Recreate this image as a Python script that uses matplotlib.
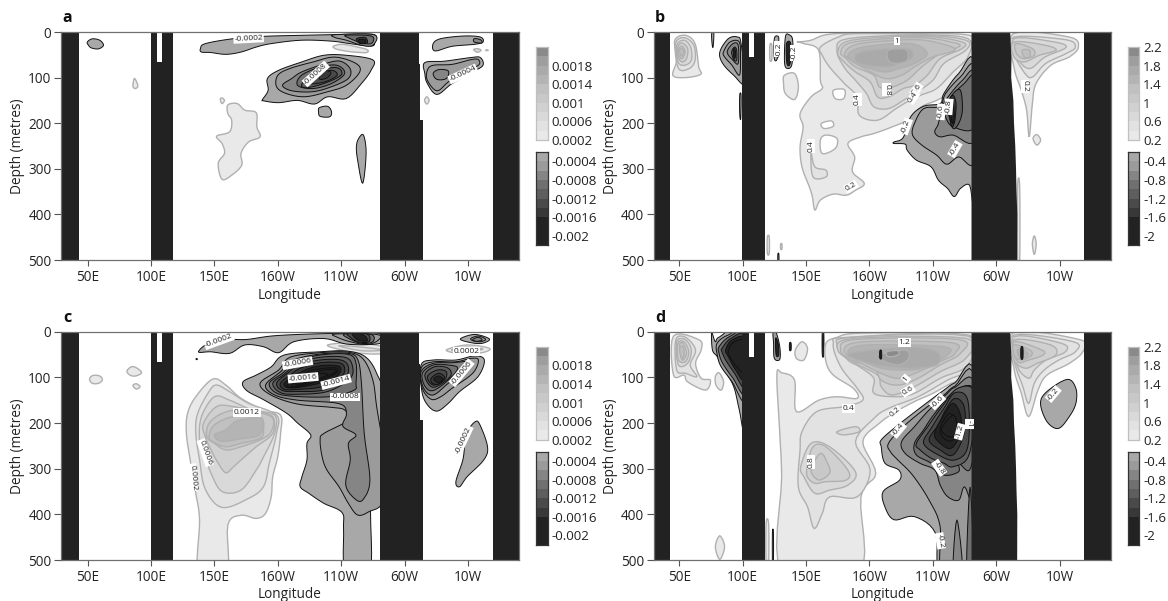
import numpy as np
import matplotlib
matplotlib.use('Agg')
import matplotlib.pyplot as plt
from matplotlib.colors import ListedColormap

plt.rcParams['font.family'] = ['Open Sans', 'DejaVu Sans']

W, H = 1168, 601

lon_ticks = [50, 100, 150, 200, 250, 300, 350]
lon_labels = ['50E', '100E', '150E', '160W', '110W', '60W', '10W']
depth_ticks = [0, 100, 200, 300, 400, 500]

# band greys, weakest band first
pos_greys = ['#e9e9e9', '#e2e2e2', '#d9d9d9', '#d0d0d0', '#c8c8c8', '#c0c0c0', '#b4b4b4', '#aaaaaa', '#9e9e9e', '#8a8a8a']
neg_greys = ['#a8a8a8', '#9b9b9b', '#858585', '#707070', '#5e5e5e', '#4a4a4a', '#383838', '#222222', '#222222', '#222222']

# land: (lon list, depth list)
land_left_lon = [[29, 43, 43, 29], [99.6, 117.6, 117.6, 99.6], [280.6, 311.6, 311.6, 312.6, 312.6, 314.4, 314.4, 280.6], [369.6, 391, 391, 369.6]]
land_left_dep = [[0, 0, 500, 500], [0, 0, 500, 500], [0, 0, 70, 70, 193, 193, 500, 500], [0, 0, 500, 500]]
land_right_lon = [[29, 43, 43, 29], [99.4, 117.4, 117.4, 99.4], [280.5, 311, 312, 311.8, 313.5, 314, 315, 315.6, 316, 316.6, 316.5, 280.5], [369.2, 391, 391, 369.2]]
land_right_dep = [[0, 0, 500, 500], [0, 0, 500, 500], [0, 0, 60, 100, 150, 200, 250, 300, 350, 400, 500, 500], [0, 0, 500, 500]]
slot_lon = [105, 109]
slot_depth_left = 66
slot_depth_right = 55

# contour outlines: (level, lons, depths)
a_rings = [
    (-0.0002, [49.7, 53.6, 59.5, 62.5, 58.6, 53, 50.6], [22, 15, 18, 29, 37, 35, 29]),
    (0.0002, [87, 89, 89.5, 87.5, 85.8, 86], [102, 112, 120, 124, 120, 110]),
    (0.0002, [154.6, 156, 157.9, 156], [148, 144.5, 150, 157]),
    (0.0002, [160.6, 168, 174, 183, 183.5, 186, 177, 171, 171.6, 163.6, 156, 153, 158, 156, 151.7, 162, 163.6, 160.6], [160, 157, 171.5, 177, 208, 230, 241, 266, 292, 314, 323, 288, 266, 244.5, 228.5, 219, 193.5, 179]),
    (0.0002, [244, 251, 263, 270.6, 270, 260, 250, 245], [31, 27, 33, 39, 45, 44, 40, 36]),
    (-0.0002, [139, 142.8, 165, 188.8, 218.6, 245, 275, 276.5, 273.6, 257, 242, 218.6, 194.8, 183, 171, 159, 147, 139.8], [36.5, 25.5, 14.6, 9.5, 7.3, 5.8, 5, 22, 31, 25.5, 20, 18, 25.5, 33, 44, 49, 45, 44]),
    (-0.0004, [245, 276, 275, 266, 254, 245], [6, 6, 29, 29, 18, 12]),
    (-0.0008, [254, 274, 274, 266, 256], [7, 9, 25, 24, 13]),
    (-0.0014, [262, 269, 270.6, 264.6], [15, 12, 24, 25]),
    (-0.0022, [264, 269, 268.5, 265], [17, 17, 24, 24]),
    (-0.0002, [188, 192.4, 191.8, 200.7, 218.6, 236.4, 254, 275, 273.6, 266, 254, 239.4, 229, 215.6, 200.7, 188.8], [148, 128, 102, 84, 66, 51, 51, 61, 84, 113, 146, 142, 158, 150, 155, 151]),
    (-0.0004, [199, 200, 209.6, 227.5, 245, 261.7, 264.6, 254, 239.4, 221.5, 206.7], [120, 95, 80, 66, 55, 69, 88, 117, 131, 142, 135]),
    (-0.0006, [203.7, 211, 218.6, 233.4, 248.3, 257, 255.7, 242.4, 227.5, 211.2], [117, 102, 88, 73, 63.5, 80, 102, 120, 131, 129]),
    (-0.0008, [215.6, 218.6, 233.4, 246.8, 252.8, 242.4, 227.5], [117, 95, 77, 73, 91, 113, 124]),
    (-0.001, [218.6, 224.5, 239.4, 248.3, 249.8, 236.4, 223], [117, 98.5, 80, 80, 95, 113, 122]),
    (-0.0012, [224.5, 230.5, 242.4, 246.8, 236.4], [113, 95, 84, 95, 110]),
    (-0.0014, [233, 236.4, 241.8, 239.4, 233.4], [95, 85, 88, 100, 104]),
    (-0.0002, [232.8, 239.4, 242.4, 240.9, 233.4, 232.2], [166, 163, 175, 186, 185, 175]),
    (-0.0002, [263.7, 267.6, 269.7, 267, 263, 262], [234, 226, 266, 332, 281, 252]),
    (-0.0002, [322.6, 328.6, 346.4, 359.8, 361.9, 355.3, 337.5, 324], [25.5, 14.6, 8.8, 11, 22, 27, 31.4, 41.6]),
    (-0.0006, [355, 360, 361, 355], [14.6, 17, 24, 22]),
    (0.0006, [354.5, 357.5, 360.4, 357.5], [38.7, 36.5, 40, 44.5]),
    (0.0006, [364, 365, 366, 365], [40, 39, 40, 41]),
    (-0.0002, [316, 331.5, 352.4, 359.8, 361.9, 353.8, 337.5, 325.6, 318, 316], [67, 64, 56, 56, 73, 87.6, 113, 137, 113, 91]),
    (-0.0004, [318, 322.6, 337.5, 352.4, 358.3, 358.3, 346.4, 334.5, 325.6, 318], [84, 73, 71, 60.6, 60.6, 73, 87.6, 109.5, 129, 106]),
    (-0.0006, [322.6, 327, 334.5, 333, 325.6], [91, 82.5, 85.4, 102, 104]),
    (0.0002, [315.8, 317.6, 319.4, 317.6], [150, 142, 150, 158]),
]
a_labels = ['-0.0002', '-0.0008', '-0.0004']
a_label_lon = [177, 230, 346]
a_label_dep = [14.6, 92, 92]
a_label_rot = [3, 42, 25]

b_rings = [
    (0.2, [46.5, 55, 62.5, 65.4, 67, 55, 45, 48], [18, 7.3, 25.5, 76.6, 92.7, 100, 95, 62]),
    (0.4, [47, 54, 61.5, 62.5, 58, 49.4], [25.5, 12.4, 29, 62, 80, 80]),
    (0.6, [48, 54, 59, 59.6, 54, 49], [29, 18, 33, 62, 73, 65.7]),
    (0.8, [48.8, 52.3, 56.7, 55.8, 52.3, 49], [33, 24, 36.5, 58.4, 65.7, 54.7]),
    (1.0, [49.7, 52.3, 54.6, 52.3, 49.7], [36.5, 31.4, 43.8, 58.4, 51]),
    (1.2, [50.3, 52.3, 53.5, 51.7], [40, 36.5, 46, 53]),
    (-0.2, [82, 88.7, 96, 98.8, 102, 93, 84.3], [44, 14.6, 11, 25.5, 113, 95, 69]),
    (-0.4, [84.9, 90, 97.4, 98.3, 97.4, 91.6, 85.8], [44, 22, 22, 62, 95, 73, 54.7]),
    (-0.6, [87.8, 92.4, 96.5, 96.5, 92.4], [44, 25.5, 29, 69, 62]),
    (-1.0, [91.3, 93.6, 95.3, 95.3, 93], [44, 33, 40, 62, 60.6]),
    (-2.2, [92.7, 93.9, 94.5, 93.3], [40, 36.5, 51, 58.4]),
    (-0.2, [75.6, 77.3, 76.7, 75.9], [3.6, 3.6, 33, 25.5]),
    (-0.2, [97.7, 98.8, 98.5, 97.7], [139, 139, 190, 179]),
    (-0.2, [133.7, 136.6, 139.5, 139, 136, 133.1], [11, 6, 18.3, 69, 80, 69]),
    (-2.2, [134.6, 138, 137.5, 134.9], [25.5, 25.5, 69, 69]),
    (-0.2, [125, 128, 128.5, 127.3, 125], [14.6, 9.5, 22, 58.4, 58.4]),
    (0.2, [121.5, 123, 123, 121.5], [29, 29, 60.6, 60.6]),
    (0.2, [132.9, 141, 144, 141, 133.7, 132.3], [95, 91, 120.5, 148, 135, 113]),
    (0.2, [119.5, 121, 121, 119.5], [450, 450, 485, 485]),
    (0.2, [130, 131, 131, 130], [465, 465, 476, 476]),
    (-0.2, [127.8, 128.6, 128.6, 127.8], [487, 487, 505, 505]),
    (0.2, [328.5, 330, 331.5, 330], [465, 447, 465, 488]),
    (0.2, [316.8, 318.5, 318.5, 316.8], [340, 340, 505, 505]),
    (0.2, [143.9, 154, 165.7, 189, 212, 241.3, 283, 283, 276, 264.5, 253, 241, 232.5, 218, 203.5, 193.3, 183, 188.4, 186.6, 196, 189, 181.7, 171.5, 161.3, 157, 155, 152.6, 146.8, 145.3, 147.7, 145.3, 154, 162.8, 161.3, 160, 148.3, 144],
     [22, 18, 6, 1.5, 1.5, 3.6, 11, 69, 98.5, 131, 150, 164, 190, 208, 222.7, 230, 244.5, 274, 306.6, 332, 347, 358, 355.5, 368.7, 390.5, 361, 339.5, 296, 252, 208, 179, 142, 124, 106, 40, 25.5, 22]),
    (0, [171.5, 180.3, 179.7, 173], [128, 126.3, 146, 146]),
    (0, [162, 170, 171.5, 164.2], [200.7, 195, 206.6, 211.7]),
    (0, [161.3, 165.7, 174.4, 173, 162.8], [237, 226, 233.6, 255.5, 266.5]),
    (0.4, [154, 157, 165.7, 165.7, 155.5], [266, 296, 303, 318, 318]),
    (0.4, [161.3, 174.4, 189, 241.3, 277.6, 277.6, 266, 253, 240, 229.7, 221, 206.4, 192, 190.5, 180.3, 168.6, 162.8], [33, 12.4, 3.6, 5.8, 14.6, 54.7, 87.6, 124, 139, 153.3, 168, 193.5, 182.5, 142.4, 113, 77, 51]),
    (0.6, [174.4, 183, 241.3, 276, 276, 258.7, 250, 235.5, 226.7, 215, 203.5, 197.7, 189, 180], [40, 14.6, 7.3, 18, 40, 69, 106, 135, 150, 168, 164, 135, 106, 77]),
    (0.8, [175, 186, 241.3, 273, 273, 255.8, 245.6, 235.5, 226.7, 215, 206.4, 200.6, 189, 180], [44, 18, 9.5, 22, 36.5, 58.4, 95, 117, 124, 142.4, 142.4, 109.5, 87.6, 65.7]),
    (1.0, [177.3, 187.5, 238.4, 267.4, 270.3, 255.8, 241.3, 229.7, 216.6, 207.8, 203.5, 189, 181.7], [44, 22, 12.4, 24, 33, 47.5, 76.6, 106, 122, 120.5, 95, 76.6, 58.4]),
    (1.2, [180.3, 192, 235.5, 258.7, 267.4, 250, 235.5, 225.3, 212.2, 196.2, 186], [47.5, 25.5, 16.8, 27, 40, 54.7, 76.6, 95, 102, 80, 62]),
    (1.4, [183, 194.8, 232.6, 245.6, 235.5, 223.8, 212.2, 200.6, 189], [51, 33, 25.5, 47.5, 69, 80, 87.6, 80, 69]),
    (1.6, [189, 200.6, 229.7, 234, 223.8, 212, 192], [51, 40, 36.5, 54.7, 69, 76.6, 69]),
    (1.8, [215, 229, 229.7, 221, 215], [40, 38.7, 62, 69, 62]),
    (0.2, [313.4, 357.6, 364.8, 357.6, 343, 331.4, 328.5, 326, 324, 319.8, 314], [3.6, 11, 33, 54.7, 73, 113, 157, 230, 172, 128, 77]),
    (0.4, [314, 355, 362.4, 355, 339, 328.8, 322.8, 314], [11, 17, 33, 47.5, 69, 98.5, 91.3, 47.5]),
    (0.6, [314, 346, 355, 338.5, 326.7, 318], [14.6, 22, 34, 54.7, 80, 62]),
    (0.8, [314, 338.5, 347.3, 334, 322, 314], [22, 29, 40, 51, 65.7, 54.7]),
    (1.0, [315.4, 328.5, 330, 322, 316], [25.5, 36.5, 51, 58.4, 47.5]),
    (1.2, [320.5, 326.3, 326.3, 322], [40, 40, 54.7, 54.7]),
    (0.2, [329, 332, 335, 332], [233.6, 225, 237, 248]),
    (-0.2, [219.5, 226.7, 232.5, 242.7, 255.8, 258.7, 270.4, 283, 283, 279, 271.8, 266.9, 261.6, 254.4, 248.6, 237, 229.7, 228.2, 219.5], [241, 231.4, 186, 162.8, 157, 135, 91, 73, 383, 336, 343, 361, 343, 325, 295.6, 281, 259, 246, 244.5]),
    (-0.4, [234, 235.5, 242.7, 255.8, 260, 271.8, 283, 283, 270.4, 261, 253, 241.3], [226, 200.7, 168, 163, 135, 98.5, 80, 281, 273.8, 290, 270, 248]),
    (-0.6, [251.5, 254.4, 257.3, 263, 273.3, 283, 283, 266, 255.8], [219, 200.7, 164, 138.7, 106, 91, 237, 226, 230]),
    (-0.8, [260, 264.5, 274.7, 283, 283, 266, 260], [171.5, 142.4, 113, 98.5, 208, 208, 186]),
    (-1.0, [261, 266, 271.8, 273.3, 270.4, 266, 263], [164, 135, 128, 171.5, 200.7, 211.7, 186]),
    (-1.4, [263, 266, 268.3, 267.4, 265, 263], [150, 139, 157, 193.5, 208, 179]),
    (-1.8, [264.5, 266, 266.9, 265.4, 264.2], [160.6, 150, 186, 200.7, 179]),
]
b_labels = ['1', '0.8', '0.4', '0.6', '0.4', '0.4', '0.2', '-0.2', '-0.6', '-0.8', '-0.4', '0.2', '-0.2', '-0.2']
b_label_lon = [221.8, 213.7, 190.4, 237, 234.5, 154, 185.5, 229, 256.4, 262.5, 267.4, 322.7, 128.5, 140.4]
b_label_dep = [20, 126, 147.5, 126, 143, 250, 339, 207, 175, 164, 257, 119, 38, 46]
b_label_rot = [0, -90, 90, 55, 55, 90, 30, 70, 85, 85, 60, -90, 90, 90]

c_rings = [
    (0.0002, [51.5, 54, 59.5, 61.6, 58.6, 53.6], [104, 96, 97, 105.6, 113, 113]),
    (0.0002, [81, 84.8, 89, 92.5, 87.8, 83.3], [86, 76.6, 80, 90, 97, 95]),
    (0.0002, [85.7, 88.4, 91.3, 88.4], [118, 114, 120.5, 125.6]),
    (-0.0022, [135.6, 136.4, 136.4, 135.6], [59, 59, 61, 61]),
    (0.0002, [137.7, 138.3, 135.3, 130.9, 127.9, 128.8, 135.3, 148.7, 159, 171, 188.8, 202.2, 202.2, 200, 196, 194.8, 190.3, 183, 171, 160.6, 159.7], [530, 413, 354, 281, 223, 179, 142.4, 103.7, 116.8, 146, 171.5, 182.5, 222.7, 273.8, 318, 361.7, 398, 409, 402, 423.5, 530]),
    (0.0004, [135.3, 136.8, 145.7, 151.7, 162, 177, 199, 199, 193.3, 188.8, 177, 156, 142.8, 138.3], [222.7, 179, 131.4, 116.8, 131.4, 157, 182.5, 222.7, 288, 339, 365, 385, 345, 281]),
    (0.0006, [138.3, 139.8, 150, 162, 179.6, 197.5, 197.5, 188.8, 183, 171, 156, 147.3, 142.8], [237, 186, 142.4, 150, 171.5, 182.5, 222.7, 273.8, 303, 347, 350, 310, 274]),
    (0.0008, [142.8, 141.3, 151.7, 165, 183, 196, 196, 183, 171, 165, 159, 153, 147.3], [230, 201, 164, 164, 175, 186, 222.7, 252, 281, 296, 309, 288, 259]),
    (0.001, [144, 145.7, 156, 171, 194.8, 194.8, 186, 171, 159, 150], [230, 201, 179, 171.5, 186, 219, 237, 252, 259, 244.5]),
    (0.0012, [145.7, 150, 165, 186, 188.8, 186, 171, 159, 148.7], [230, 204, 186, 186, 215, 233.6, 244.5, 252, 241]),
    (0.0014, [150, 159, 168, 186, 186, 170, 155], [226, 215, 195, 190, 225, 235, 240]),
    (0.0002, [239.4, 260, 283, 283, 266, 248.3], [29, 24, 33, 47.5, 47.5, 38.7]),
    (0.0004, [248, 263, 283, 266], [31, 33, 40, 41.6]),
    (-0.0002, [137.4, 147, 162, 175.5, 194.8, 218.6, 248.3, 279.5, 283, 273.6, 254, 236.4, 212.6, 200.7, 188.8, 174, 162, 147], [44, 22, 17, 17, 9.5, 5.8, 3.6, 3.6, 22, 28, 27, 15, 22, 46, 33, 29, 47.5, 44]),
    (-0.0004, [245.3, 278, 279.5, 270.6, 257.2, 246.8], [5, 6, 18, 28, 22, 12]),
    (-0.0008, [252.8, 273.6, 275, 266, 255.7], [5, 6, 22, 25.5, 14.6]),
    (-0.0012, [255.7, 270.6, 272, 263, 256.6], [3.6, 5, 22, 22, 11]),
    (-0.0018, [258.7, 267.6, 270.6, 263], [3.6, 7, 20, 18]),
    (-0.0002, [172.5, 183, 194.8, 205, 233.4, 254, 269, 278, 283, 283, 273.6, 272.7, 253.6, 251.9, 250.7, 236.4, 224.5, 217.7, 219, 223, 223, 226, 215.6, 206.7, 188.8, 175.5], [110, 95, 77, 51, 44, 42.3, 54.7, 91, 150, 369, 376, 530, 530, 433, 396, 376, 354, 339.6, 318, 281, 244.5, 226, 200, 178, 149, 129]),
    (-0.0004, [186, 200.7, 209.6, 233.4, 255.7, 267.6, 275, 278, 283, 283, 272, 263, 255.7, 248.3, 238.8, 235, 233.4, 236.4, 255.7, 252.8, 242.4, 215.6, 194.8], [113, 84, 56, 46, 45, 60.6, 106, 164, 259, 369, 394, 401.5, 376, 339.5, 303, 274, 237, 222.7, 193.5, 171.5, 165.7, 158.5, 139]),
    (-0.0006, [190.3, 202.2, 212.6, 233.4, 255.7, 263.2, 266, 268.2, 272.7, 267.6, 261.7, 253.6, 257.2, 255.7, 261.7, 251.3, 254.2, 248.3, 215.6, 197.8], [117, 87.6, 62, 49, 47.5, 62, 113, 222.7, 324.6, 366.5, 368, 336, 281, 244.5, 226, 207, 179.5, 157.5, 150, 139]),
    (-0.0008, [193.3, 203.7, 214, 233.4, 255.7, 261.7, 261.7, 260.2, 242.4, 215.6, 199.3], [113, 91, 65.7, 51, 49.6, 69, 113, 128, 142, 142, 135]),
    (-0.001, [196, 205, 215.6, 233.4, 252.8, 258.7, 257.2, 239.4, 215.6, 202.2], [113, 93, 69, 56, 56, 73, 102, 131, 137, 133.6]),
    (-0.0012, [199, 206.7, 217, 233.4, 249.8, 255.7, 252.8, 236.4, 215.6, 203.7], [113, 93, 73, 62, 62, 77, 102, 127.5, 131, 129]),
    (-0.0014, [202, 209.6, 218.6, 233.4, 248.3, 252.8, 249.8, 235, 215.6, 205], [113, 95, 79, 68, 68, 80, 100, 120.5, 126.3, 126.3]),
    (-0.0016, [205, 212.6, 221.5, 233.4, 246.8, 249.8, 245.3, 230.5, 215.6, 207.3], [113, 98.5, 84, 74.5, 74.5, 84, 100, 114.6, 122, 122]),
    (-0.0018, [207.3, 215.6, 227.5, 245.3, 246.8, 239.4, 218.6], [119, 100, 84, 79, 87.6, 100, 119]),
    (-0.002, [211, 215.6, 230.5, 243.8, 245.3, 233.4, 215.6], [120.5, 102, 87.6, 82, 89, 102, 119]),
    (-0.0022, [214, 218.6, 230.5, 239.4, 233.4, 220], [114.6, 106, 93, 93, 102, 113]),
    (-0.0002, [344, 355.3, 367, 361.2, 352.4], [16, 6, 16, 25.5, 24]),
    (-0.0004, [352.4, 358.3, 364, 359.8, 353.8], [14.6, 9.5, 16.8, 22, 19.7]),
    (-0.0006, [353.8, 358.3, 361.2, 356.8], [17, 12.4, 18, 21]),
    (0.0002, [333, 349.4, 367, 361, 343.5], [40, 29, 36.5, 46, 47.5]),
    (0.0004, [337, 349, 362, 349], [40, 34, 38, 43]),
    (-0.0002, [313, 322.6, 340.5, 355.3, 363, 358, 343.5, 334.5, 325.6, 318.2, 313.7], [73, 62, 62, 53, 62, 98.5, 131, 157, 174, 160.6, 131]),
    (-0.0004, [313, 322.6, 340.5, 352.4, 358.3, 353.8, 337.5, 328.6, 321, 314], [80, 66, 66, 58.4, 62, 91, 124, 142.4, 148, 124]),
    (-0.0006, [313, 322.6, 337.5, 350.9, 349.4, 334.5, 322.6, 315.1], [87.6, 69.4, 68, 65.7, 80, 113, 138.7, 124]),
    (-0.0008, [314, 322.6, 334.5, 342, 334.5, 322.6, 316], [91, 73, 73, 80, 106, 129, 119]),
    (-0.001, [316, 323.9, 334.5, 336, 322.6], [95, 76.6, 80, 98.5, 122]),
    (-0.0012, [318, 325.6, 333, 331.5, 322.6], [98.5, 84, 87.6, 106, 117]),
    (-0.0014, [321, 327, 331.5, 327, 322], [102, 91, 100, 114.6, 113]),
    (-0.0016, [323, 327, 330, 327], [104, 97, 104, 112]),
    (-0.0002, [355.8, 359.5, 365.5, 362.5, 349.4, 343.5, 340.5, 346, 347.6, 349.4], [197, 204, 252, 281, 317.6, 339.5, 328.5, 281, 244.5, 219]),
]
c_labels = ['-0.0002', '-0.0006', '-0.0016', '-0.0014', '-0.0008', '0.0012', '0.0006', '0.0002', '0.0002', '-0.0006', '-0.0002']
c_label_lon = [153.7, 215.6, 220, 246, 253, 175.5, 142.8, 133, 349, 345, 346.4]
c_label_dep = [20, 69, 101, 110, 143, 177, 265, 319, 43, 90, 237]
c_label_rot = [20, 10, 5, 15, 0, 0, -70, -85, 0, 50, 65]

d_rings = [
    (0.2, [45.5, 65.8, 67.3, 62.9, 67.3, 74.6, 70.8, 56.7, 53.8, 45.5], [9.5, 18, 40, 69, 102, 106, 128, 110, 95, 95]),
    (0.4, [47.3, 55, 62.9, 58.7, 64, 55, 48], [18, 12.4, 40, 73, 98.5, 91, 84]),
    (0.6, [48, 54.7, 59.6, 56.7, 49.4], [22, 17, 40, 69, 73]),
    (0.8, [49, 53.8, 57.6, 55, 49.4], [25.5, 22, 44, 65.7, 62]),
    (1.0, [50.3, 53, 55.8, 52.3], [29, 25.5, 47.5, 62]),
    (1.2, [50.3, 53, 53.8, 51.7], [36.5, 33, 51, 58.4]),
    (-0.2, [75.6, 78.5, 82, 102, 102, 97.4, 93, 85.8, 80, 76.2], [1.5, 22, 11, -5, 219, 171.5, 120.5, 84, 54.7, 40]),
    (-0.4, [79.8, 88.7, 102, 102, 91.7, 83, 80], [25.5, 7.3, 3.6, 150, 109.5, 76.6, 51]),
    (-0.8, [81.4, 89.5, 102, 102, 92.4, 84.3, 81.4], [33, 11, 7.3, 135, 102, 69.4, 47.5]),
    (-1.2, [83.7, 90.7, 102, 102, 93.6, 86.6, 83.7], [36.5, 14.6, 11, 120.5, 91, 62, 44]),
    (-1.6, [86.6, 91.6, 102, 102, 94.5, 88.7], [40, 18, 17, 106, 84, 54.7]),
    (-2.0, [88.7, 92.4, 102, 102, 95.3, 90], [44, 24, 22, 87.6, 76.6, 54.7]),
    (0.2, [78.5, 81.4, 85, 83, 79], [98.5, 90, 109.5, 128, 117]),
    (0.2, [82, 85.8, 82, 78.5], [447, 471, 498.6, 471]),
    (-0.4, [124, 126.4, 129.3, 129.3, 125, 124.4], [1.5, 1.5, 33, 60.6, 58.4, 25.5]),
    (-1.6, [126, 128, 128.5, 126.4], [14.6, 25.5, 51, 51]),
    (0.2, [141.6, 146.8, 151.2, 148.3, 142.4], [40, 22, 36.5, 62, 58.4]),
    (-2.2, [137, 138.2, 138.2, 137], [25, 25, 40, 40]),
    (-2.2, [162.8, 164, 164, 162.8], [1.5, 1.5, 50, 50]),
    (0.2, [118.5, 120.5, 120.5, 118.5], [420, 420, 505, 505]),
    (-0.2, [123.5, 124.3, 124.3, 123.5], [440, 440, 505, 505]),
    (0.2, [165.7, 174.4, 189, 241.3, 283, 283, 264.5, 250, 235.5, 221, 207.8, 194.8, 205, 193.3, 191.8, 131.4, 130.8, 129.3, 127, 130.8, 141, 142.4, 160, 174.4, 190.4, 187.5, 171.5, 165.7],
     [25.5, 12.4, 3.6, 2, 3.6, 91, 113, 135, 153, 175, 200.7, 241, 310.6, 361.7, 530, 530, 317.6, 222.7, 95, 90, 106, 175, 150, 142.4, 146, 124.5, 95, 65.7]),
    (0.4, [171.5, 183, 278.5, 278.5, 261.6, 238.4, 215, 203.5, 189, 200.6, 190.4, 168.6, 162.8, 156.4, 151.2, 143.9, 145.3, 146.8, 158.4, 180.2, 194.8, 190.4, 177.3], [25.5, 12.4, 7.3, 80, 106, 142.4, 168, 190, 241, 303, 361.7, 361.7, 398, 431, 383.5, 339.5, 259, 219, 175, 164, 150, 124, 76.6]),
    (0.6, [145.8, 154, 168.6, 189, 183, 168.6, 157, 148.3], [296, 244.5, 252, 306.6, 336, 347, 354, 317.6]),
    (0.8, [151, 155.5, 165.7, 183, 181.7, 165.7, 157, 151], [296, 252, 252, 303, 325, 328.5, 332, 317.6]),
    (1.0, [154, 161.3, 167, 168.6, 160], [303, 266.5, 288, 310, 325]),
    (0.6, [174.4, 189, 192, 180], [219, 208, 219, 226]),
    (0.6, [174.4, 186, 277.6, 277.6, 255.8, 235.5, 221, 203.5, 203.5, 192, 183], [29, 12.4, 9.5, 73, 102, 135, 142.4, 135, 102, 76.6, 62]),
    (0.8, [175, 187.5, 276, 276, 255.8, 235.5, 218, 209.3, 206.4, 189], [40, 14.6, 14.6, 58.4, 87.6, 120.5, 138.7, 120.5, 95, 69]),
    (1.0, [177.3, 189, 270.4, 271.8, 255.8, 235.5, 221, 209.3, 203.5, 186], [40, 17, 17, 47.5, 73, 106, 117, 106, 80, 62]),
    (1.2, [180, 194.8, 264.5, 267.4, 258.7, 232.6, 221, 206.4, 189], [40, 22, 24, 47.5, 62, 95, 102, 87.6, 62]),
    (1.4, [183, 197.7, 258.7, 260, 241.3, 226.7, 209.3, 193.3], [44, 29, 33, 54.7, 80, 84, 80, 62]),
    (1.6, [184.6, 229.7, 253, 253, 229.7, 206.4, 190.4], [47.5, 33, 44, 73, 80, 73, 60.6]),
    (1.8, [206.4, 228, 231, 222.4, 209.3], [51, 40, 58.4, 73, 62]),
    (2.0, [213.7, 222.4, 222.4, 215], [44, 41.6, 51, 54.7]),
    (-2.2, [208.2, 209.5, 209.5, 208.2], [42, 42, 58, 58]),
    (-0.2, [209.3, 209.3, 221, 241.3, 258.7, 267.4, 283, 283, 255.8, 252, 235.5, 219.5, 212.2, 210.8, 223.8, 223.2, 212.2], [252, 237, 208, 164, 128, 112, 98.5, 530, 530, 441, 405, 412, 383.5, 350, 325, 303, 288]),
    (-0.4, [215, 226.7, 244, 258.7, 267.4, 283, 283, 257.3, 255.8, 247, 234, 222.4, 216.6], [244.5, 208, 168, 138.7, 119, 109.5, 530, 530, 427, 368.7, 314, 281, 263]),
    (-0.6, [225.3, 235.5, 247, 260, 267.4, 283, 283, 275, 270.4, 261.6, 255.8, 251.5, 239.7, 228], [241, 208, 171.5, 139, 122, 116.5, 369, 339.5, 369, 361, 336, 303, 288, 266]),
    (-0.6, [266, 269, 273.5], [530, 412, 530]),
    (-0.8, [276.6, 279.4, 282], [530, 340, 530]),
    (-0.8, [235.5, 242.7, 251.5, 268, 283, 283, 279, 270.4, 270.4, 258.7, 248.6, 237], [244.5, 215, 179, 128, 127.7, 237, 303, 288, 306.6, 314, 288, 270]),
    (-1.0, [237, 247, 257.3, 269.5, 283, 279, 266, 258.7, 248.6, 240], [244.5, 204, 164, 124, 135, 266.5, 295.6, 288, 277, 259]),
    (-1.2, [242.7, 248.6, 258.7, 267.4, 277.6, 277.6, 267.4, 254.4], [244.5, 211.7, 168, 133.6, 150, 252, 281, 270]),
    (-1.4, [247, 254.4, 260, 267.4, 274.7, 274.7, 266, 255.8], [237, 204, 171.5, 146, 164, 222.7, 270, 259]),
    (-1.6, [251.3, 258.7, 266, 271.8, 271.8, 264.5, 255.8], [222.7, 182.5, 157, 182.5, 222.7, 255.5, 244.5]),
    (-1.8, [255.8, 263, 269, 266, 258.7], [211.7, 179, 200.7, 237, 233.6]),
    (-2.0, [257, 266, 269, 266, 260], [211.7, 182.5, 208, 230, 226]),
    (0.2, [313.5, 366.8, 368.2, 357.6, 340, 332.9, 325.6, 319.8, 314], [2, 18, 44, 69.4, 95, 128, 186, 135, 80]),
    (0.4, [314, 361, 362.4, 349.4, 337.8, 330, 325.6, 321, 314], [7.3, 22, 44, 62, 84, 113, 157, 120.5, 62]),
    (0.6, [314, 351.5, 354.6, 339.4, 330, 325.6, 316.7], [11, 25.5, 44, 62, 84, 102, 76.6]),
    (0.8, [314, 343, 347, 332.5, 322.8, 314], [18, 29, 51, 69, 80, 62]),
    (1.0, [314, 335.8, 337, 325.7, 316.7], [22, 40, 51, 62, 65.7]),
    (1.2, [314, 326.3, 328, 320.5, 314.7], [29, 40, 51, 62, 54.7]),
    (1.4, [316.7, 322, 325, 319], [40, 40, 51, 58.4]),
    (-2.2, [319.5, 321, 321, 319.5], [35, 35, 58, 58]),
    (-0.2, [334.9, 340, 356, 362.8, 362.8, 357.6, 349, 340], [157, 131, 104.4, 124, 157, 186, 212, 197]),
]
d_labels = ['1.2', '1', '0.6', '0.4', '0.2', '-0.4', '-0.6', '0.8', '-0.8', '-1.2', '-1', '-0.2', '-0.2']
d_label_lon = [227.6, 228.8, 230.5, 183.7, 220.3, 223, 253.7, 154, 255, 271.4, 279, 255.9, 345]
d_label_dep = [23, 103, 129, 168, 177, 215, 153, 285, 298, 219, 202, 458, 136.5]
d_label_rot = [0, 50, 30, 0, 40, 50, 45, 90, -55, 75, -90, -80, 50]

cbar_small = ['0.0018', '0.0014', '0.001', '0.0006', '0.0002', '-0.0004', '-0.0008', '-0.0012', '-0.0016', '-0.002']
cbar_large = ['2.2', '1.8', '1.4', '1', '0.6', '0.2', '-0.4', '-0.8', '-1.2', '-1.6', '-2']
cbar_small_vals = [0.0018, 0.0014, 0.001, 0.0006, 0.0002, -0.0004, -0.0008, -0.0012, -0.0016, -0.002]
cbar_large_vals = [2.2, 1.8, 1.4, 1, 0.6, 0.2, -0.4, -0.8, -1.2, -1.6, -2]


def smooth(x, y, n=6):
    # closed catmull-rom through the read points, so tips are kept
    p = np.column_stack([x, y]).astype(float)
    p0, p1, p2, p3 = np.roll(p, 1, axis=0), p, np.roll(p, -1, axis=0), np.roll(p, -2, axis=0)
    out = []
    for t in np.linspace(0, 1, n, endpoint=False):
        out.append(.5 * (2 * p1 + (p2 - p0) * t + (2 * p0 - 5 * p1 + 4 * p2 - p3) * t ** 2 + (3 * p1 - p0 - 3 * p2 + p3) * t ** 3))
    out = np.stack(out, axis=1).reshape(-1, 2)
    return out[:, 0], out[:, 1]


def box(l, r, t, b):
    return [l / W, 1 - b / H, (r - l) / W, (b - t) / H]


def panel(rect, xlim, rings, step, land_lon, land_dep, slot_depth, labels, llon, ldep, lrot, letter, letter_x, ylab_x):
    ax = fig.add_axes(box(*rect))
    for level, lons, deps in rings:
        i = int(round(abs(level) / step))
        x, y = smooth(lons, deps)
        if level == 0:
            ax.fill(x, y, fc='white', ec='#b0b0b0', lw=1.0, zorder=2)
        elif level > 0:
            ax.fill(x, y, fc=pos_greys[min(i, 10) - 1], ec='#b0b0b0', lw=1.0, zorder=2)
        else:
            ax.fill(x, y, fc=neg_greys[min(i, 10) - 1], ec='#111111', lw=0.7, zorder=2)
    for lo, de in zip(land_lon, land_dep):
        ax.fill(lo, de, fc='#222222', ec='none', zorder=3)
    ax.fill([slot_lon[0], slot_lon[1], slot_lon[1], slot_lon[0]], [0, 0, slot_depth, slot_depth], fc='white', ec='none', zorder=4)
    for s, xx, yy, r in zip(labels, llon, ldep, lrot):
        ax.text(xx, yy, s, fontsize=6, rotation=r, rotation_mode='anchor', ha='center', va='center', color='#222222', zorder=5,
                bbox=dict(fc='white', ec='none', pad=0.6))
    ax.set_xlim(*xlim)
    ax.set_ylim(500, 0)
    ax.set_xticks(lon_ticks)
    ax.set_xticklabels(lon_labels)
    ax.set_yticks(depth_ticks)
    ax.tick_params(axis='x', length=4.5, width=0.8, color='#555555', labelsize=9.8, labelcolor='#222222', pad=2.5)
    ax.tick_params(axis='y', length=5, width=0.8, color='#555555', labelsize=9.8, labelcolor='#222222', pad=2)
    for s in ax.spines.values():
        s.set_color('#707070')
        s.set_linewidth(0.9)
        s.set_zorder(6)
    ax.set_xlabel('Longitude', fontsize=9.8, color='#222222', labelpad=2)
    mid = (rect[2] + rect[3]) / 2
    fig.text(ylab_x / W, 1 - mid / H, 'Depth (metres)', rotation=90, ha='center', va='center', fontsize=9.8, color='#222222')
    fig.text(letter_x / W, 1 - (rect[2] - 14) / H, letter, fontsize=11.5, fontweight='bold', ha='center', va='center', color='#111111')
    return ax


def colorbars(l, r, t, step, labels, vals):
    pos_edges = [step * k for k in range(1, 12)]
    neg_edges = [-step * k for k in range(11, 0, -1)]
    cax = fig.add_axes(box(l, r, t + 15, t + 108))
    cax.pcolormesh([0, 1], pos_edges, np.arange(10).reshape(-1, 1), cmap=ListedColormap(pos_greys))
    cax2 = fig.add_axes(box(l, r, t + 120, t + 213))
    cax2.pcolormesh([0, 1], neg_edges, np.arange(10).reshape(-1, 1)[::-1], cmap=ListedColormap(neg_greys))
    for c, col in ((cax, '#c0c0c0'), (cax2, '#333333')):
        c.set_xticks([])
        c.yaxis.tick_right()
        for s in c.spines.values():
            s.set_color(col)
            s.set_linewidth(0.9)
    cax.set_yticks([v for v in vals if v > 0])
    cax.set_yticklabels([s for s, v in zip(labels, vals) if v > 0])
    cax2.set_yticks([v for v in vals if v < 0])
    cax2.set_yticklabels([s for s, v in zip(labels, vals) if v < 0])
    cax.tick_params(axis='y', length=0, labelsize=9.6, labelcolor='#222222', pad=3)
    cax2.tick_params(axis='y', length=0, labelsize=9.6, labelcolor='#222222', pad=3)
    cax.set_ylim(pos_edges[0], pos_edges[-1])
    cax2.set_ylim(neg_edges[0], neg_edges[-1])


fig = plt.figure(figsize=(W / 100, H / 100), dpi=100)

left_xlim = (29.2, 390)
right_xlim = (30.2, 390.1)

panel((61.3, 518.6, 32, 260), left_xlim, a_rings, 0.0002, land_left_lon, land_left_dep, slot_depth_left, a_labels, a_label_lon, a_label_dep, a_label_rot, 'a', 67, 18)
panel((654.1, 1110.5, 32, 260), right_xlim, b_rings, 0.2, land_right_lon, land_right_dep, slot_depth_right, b_labels, b_label_lon, b_label_dep, b_label_rot, 'b', 660, 610)
panel((61.3, 518.6, 331.7, 560), left_xlim, c_rings, 0.0002, land_left_lon, land_left_dep, slot_depth_left, c_labels, c_label_lon, c_label_dep, c_label_rot, 'c', 67, 18)
panel((654.1, 1110.5, 331.7, 560), right_xlim, d_rings, 0.2, land_right_lon, land_right_dep, slot_depth_right, d_labels, d_label_lon, d_label_dep, d_label_rot, 'd', 660, 610)

colorbars(536, 547.5, 32, 0.0002, cbar_small, cbar_small_vals)
colorbars(1127.7, 1139, 32, 0.2, cbar_large, cbar_large_vals)
colorbars(536, 547.5, 331.7, 0.0002, cbar_small, cbar_small_vals)
colorbars(1127.7, 1139, 331.7, 0.2, cbar_large, cbar_large_vals)

fig.savefig('out.png', dpi=100)
